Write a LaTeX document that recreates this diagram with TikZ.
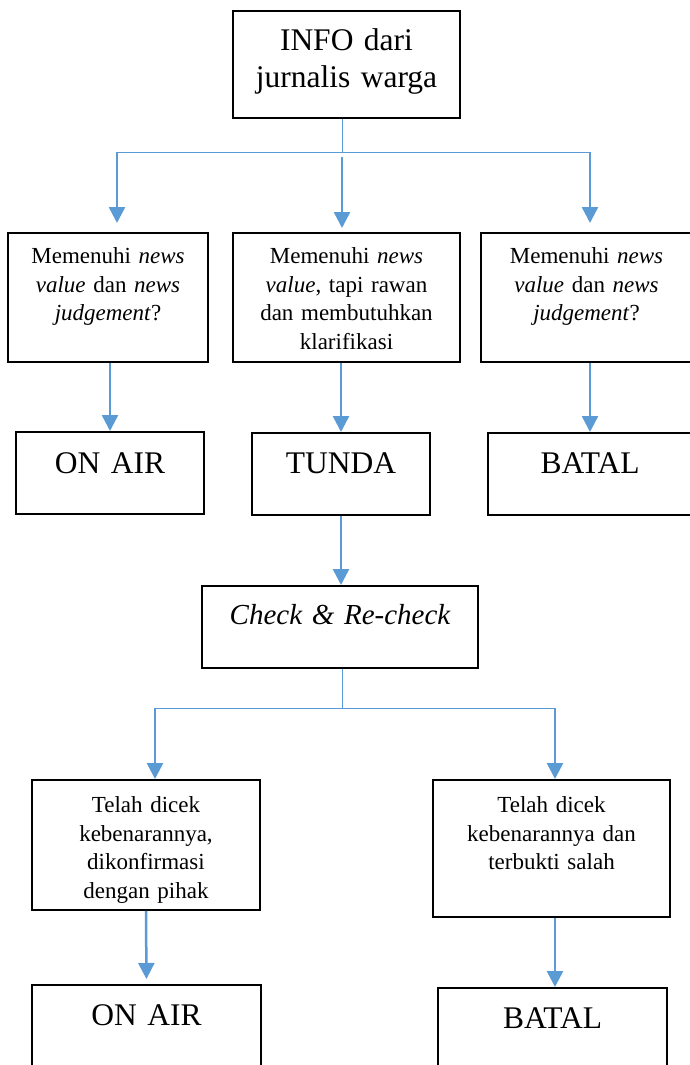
\documentclass[tikz,border=0pt]{standalone}
\usepackage{fontspec}
\setmainfont{Liberation Serif}
\usepackage{xcolor}
\usepackage{tikz}
\usetikzlibrary{arrows.meta}

\definecolor{flowblue}{RGB}{91,155,213}

\begin{document}
\begin{tikzpicture}[x=1pt,y=-1pt,
  box/.style={draw,line width=1.8pt,inner sep=0pt,anchor=north,align=center},
  big/.style={font=\fontsize{31.5}{37}\selectfont},
  small/.style={font=\fontsize{23}{28.5}\selectfont},
  link/.style={draw=flowblue,line width=1pt},
  arr/.style={draw=flowblue,line width=2.5pt,-{Triangle[width=16pt,length=16pt]}}]
  \clip (0,0) rectangle (690,1065);
  \fill[white] (0,0) rectangle (690,1065);

  \node[box,big,text width=227pt,text height=40pt,text depth=67pt] (info) at (346.5,10) {INFO dari\\jurnalis warga};

  \node[box,small,text width=200pt,text height=31pt,text depth=98pt] (q1) at (108,232) {Memenuhi \textit{news}\\\textit{value} dan \textit{news}\\\textit{judgement}?};
  \node[box,small,text width=227pt,text height=31pt,text depth=98pt] (q2) at (346.5,232) {Memenuhi \textit{news}\\\textit{value}, tapi rawan\\dan membutuhkan\\klarifikasi};
  \node[box,small,text width=211pt,text height=31pt,text depth=98pt] (q3) at (586.5,232) {Memenuhi \textit{news}\\\textit{value} dan \textit{news}\\\textit{judgement}?};

  \node[box,big,text width=188pt,text height=42pt,text depth=40pt] (r1) at (110,431) {ON AIR};
  \node[box,big,text width=178pt,text height=41pt,text depth=41pt] (r2) at (341,432) {TUNDA};
  \node[box,big,text width=204pt,text height=41pt,text depth=41pt] (r3) at (590,432) {BATAL};

  \node[box,font=\fontsize{29}{35}\selectfont\itshape,text width=276pt,text height=39pt,text depth=43pt] (chk) at (340,585) {Check \& Re-check\hspace*{16pt}};

  \node[box,small,text width=228pt,text height=33pt,text depth=97pt] (s1) at (146,779) {Telah dicek\\kebenarannya,\\dikonfirmasi\\dengan pihak};
  \node[box,small,text width=237pt,text height=33pt,text depth=104pt] (s2) at (551.5,779) {Telah dicek\\kebenarannya dan\\terbukti salah};

  \node[box,big,text width=229pt,text height=41pt,text depth=60pt] (t1) at (146.5,984) {ON AIR};
  \node[box,big,text width=229pt,text height=41pt,text depth=60pt] (t2) at (552.5,987) {BATAL};

  \coordinate (forkA) at (342,152);
  \coordinate (forkAl) at (117,152);
  \coordinate (forkAr) at (590,152);
  \draw[link] (info.south -| forkA) -- (forkA);
  \draw[link] (forkAl) -- (forkAr);
  \draw[arr,shorten >=9pt] (forkAl) -- (forkAl |- q1.north);
  \draw[arr,shorten <=5pt,shorten >=4pt] (forkA) -- (forkA |- q2.north);
  \draw[arr,shorten >=9pt] (forkAr) -- (forkAr |- q3.north);

  \draw[arr] (q1.south -| r1.north) -- (r1.north);
  \draw[arr] (q2.south -| r2.north) -- (r2.north);
  \draw[arr] (q3.south -| r3.north) -- (r3.north);

  \draw[arr] (r2.south) -- (chk.north -| r2.south);

  \coordinate (forkB) at (342,708);
  \coordinate (forkBl) at (155,708);
  \coordinate (forkBr) at (555,708);
  \draw[link] (chk.south -| forkB) -- (forkB);
  \draw[link] (forkBl) -- (forkBr);
  \draw[arr] (forkBl) -- (forkBl |- s1.north);
  \draw[arr] (forkBr) -- (forkBr |- s2.north);

  \draw[arr,shorten >=5pt] (s1.south) -- (t1.north);
  \draw[arr] (s2.south -| forkBr) -- (t2.north -| forkBr);
\end{tikzpicture}
\end{document}
